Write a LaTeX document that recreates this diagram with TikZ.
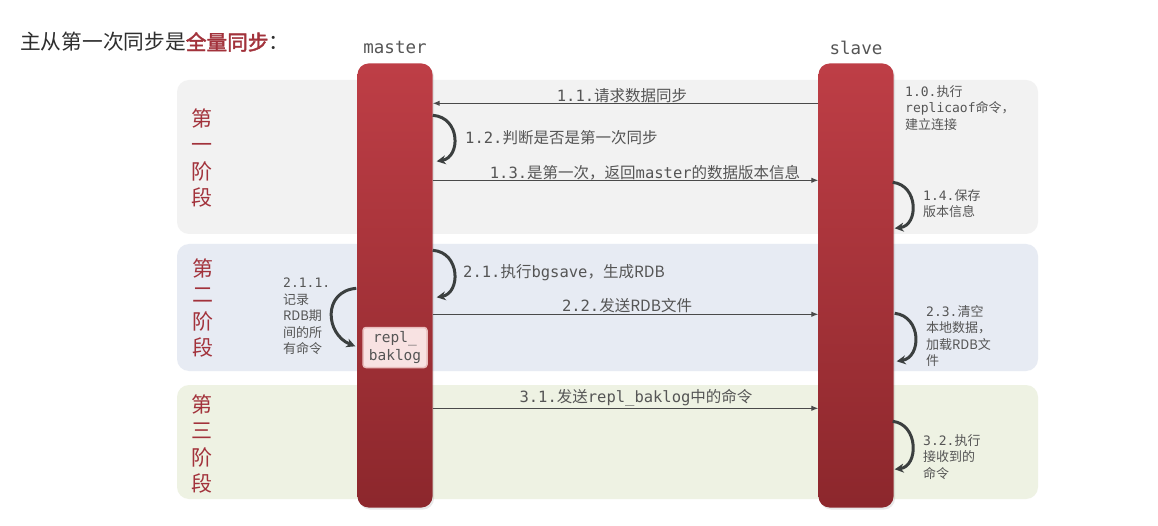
\documentclass[tikz,border=0pt]{standalone}
\usepackage{fontspec}
\setmonofont{DejaVu Sans Mono}
\newfontfamily\cjk[AutoFakeBold=2]{Noto Sans CJK SC}
\usetikzlibrary{arrows.meta,shadows}
\definecolor{barTop}{HTML}{BE3E46}
\definecolor{barBot}{HTML}{8C272C}
\definecolor{phA}{HTML}{F2F2F2}
\definecolor{phB}{HTML}{E7EBF3}
\definecolor{phC}{HTML}{EEF2E3}
\definecolor{phtxt}{HTML}{A2323B}
\definecolor{txt}{HTML}{555555}
\definecolor{arr}{HTML}{4A4A4A}
\definecolor{loopc}{HTML}{3B3F3F}
\definecolor{logfill}{HTML}{F8E2E2}
\definecolor{logedge}{HTML}{E9BDBD}
\newcommand\zh[1]{{\cjk #1}}
\begin{document}
\begin{tikzpicture}[x=1pt,y=-1pt,
  phbox/.style={rounded corners=12pt},
  phlabel/.style={font=\cjk\fontsize{21}{26.5}\selectfont, text=phtxt, align=center, inner sep=0},
  bar/.style={rounded corners=11pt, top color=barTop, bottom color=barBot, draw=none,
    minimum width=75pt, minimum height=444pt, inner sep=0,
    drop shadow={opacity=0.18, shadow xshift=1.5pt, shadow yshift=-2pt}},
  lab/.style={font=\ttfamily\fontsize{15.5}{18}\selectfont, text=txt, inner sep=0},
  side/.style={font=\ttfamily\fontsize{13}{16.5}\selectfont, text=txt, inner sep=0, align=left, anchor=north west},
  msg/.style={draw=arr, line width=1.1pt, -{Latex[length=7pt,width=5.5pt]}},
  loopa/.style={draw=loopc, line width=3pt, -{Stealth[length=9pt,width=9pt]}},
  logbox/.style={fill=logfill, draw=logedge, line width=1.5pt, rounded corners=3pt,
    minimum width=64pt, minimum height=40pt, inner sep=0, align=center,
    font=\ttfamily\fontsize{14.5}{18}\selectfont, text=txt},
  hdr/.style={font=\ttfamily\fontsize{17.5}{20}\selectfont, text=txt, inner sep=0}
]
\useasboundingbox (0,0) rectangle (1158,526);
\fill[white] (0,0) rectangle (1158,526);

% phase backgrounds
\fill[phA, phbox] (177,80) rectangle (1038,234);
\fill[phB, phbox] (177,244) rectangle (1038,371);
\fill[phC, phbox] (177,385) rectangle (1038,499);

% title
\node[anchor=west, inner sep=0, font=\cjk\fontsize{20.7}{24}\selectfont, text=black!82] (title) at (20,42)
  {主从第一次同步是{\color{phtxt}\bfseries 全量同步}：};

% phase labels
\node[phlabel] (pl1) at (202,158) {第\\一\\阶\\段};
\node[phlabel] (pl2) at (203,308) {第\\二\\阶\\段};
\node[phlabel] (pl3) at (202,444) {第\\三\\阶\\段};

% headers
\node[hdr] (mhead) at (395,47) {master};
\node[hdr] (shead) at (856,48) {slave};

% bars
\node[bar] (mbar) at (395,285.5) {};
\node[bar] (sbar) at (856,285.5) {};

% repl_baklog
\node[logbox] (log) at (395,347.5) {repl\_\\baklog};

% phase 1
\draw[msg] ([yshift=-40pt]sbar.north west) -- ([yshift=-40pt]mbar.north east);
\node[lab] (t11) at (622,96) {1.1.\zh{请求数据同步}};
\draw[loopa] ([yshift=-52pt]mbar.north east) .. controls +(28,2) and +(24,-4) .. ([xshift=4pt,yshift=-98pt]mbar.north east);
\node[lab, anchor=west] (t12) at (465,138) {1.2.\zh{判断是否是第一次同步}};
\draw[msg] ([yshift=-117pt]mbar.north east) -- ([yshift=-117pt]sbar.north west);
\node[lab] (t13) at (645,173) {1.3.\zh{是第一次，返回}master\zh{的数据版本信息}};
\node[side] (t10) at (905,85) {1.0.\zh{执行}\\replicaof\zh{命令，}\\\zh{建立连接}};
\draw[loopa] ([xshift=-1pt,yshift=-119pt]sbar.north east) .. controls +(26,3) and +(24,-3) .. ([xshift=1pt,yshift=-165pt]sbar.north east);
\node[side] (t14) at (923,189) {1.4.\zh{保存}\\\zh{版本信息}};

% phase 2
\draw[loopa] ([yshift=-187pt]mbar.north east) .. controls +(28,2) and +(24,-4) .. ([xshift=4pt,yshift=-234pt]mbar.north east);
\node[lab, anchor=west] (t21) at (463,273) {2.1.\zh{执行}bgsave\zh{，生成RDB}};
\draw[loopa] ([xshift=-1pt,yshift=-225pt]mbar.north west) .. controls +(-34,3) and +(-30,-12) .. ([xshift=-2pt,yshift=-283pt]mbar.north west);
\node[side] (t211) at (283,278) {2.1.1.\\\zh{记录}\\\zh{RDB期}\\\zh{间的所}\\\zh{有命令}};
\draw[msg] ([yshift=-251pt]mbar.north east) -- ([yshift=-251pt]sbar.north west);
\node[lab] (t22) at (627,306) {2.2.\zh{发送RDB文件}};
\draw[loopa] ([xshift=1pt,yshift=-250pt]sbar.north east) .. controls +(27,3) and +(25,-4) .. ([xshift=3pt,yshift=-298pt]sbar.north east);
\node[side] (t23) at (926,305) {2.3.\zh{清空}\\\zh{本地数据，}\\\zh{加载RDB文}\\\zh{件}};

% phase 3
\draw[msg] ([yshift=-345pt]mbar.north east) -- ([yshift=-345pt]sbar.north west);
\node[lab] (t31) at (636,398) {3.1.\zh{发送}repl\_baklog\zh{中的命令}};
\draw[loopa] ([xshift=-1pt,yshift=-358pt]sbar.north east) .. controls +(26,3) and +(24,-3) .. ([xshift=1pt,yshift=-406pt]sbar.north east);
\node[side] (t32) at (923,434) {3.2.\zh{执行}\\\zh{接收到的}\\\zh{命令}};
\end{tikzpicture}
\end{document}
